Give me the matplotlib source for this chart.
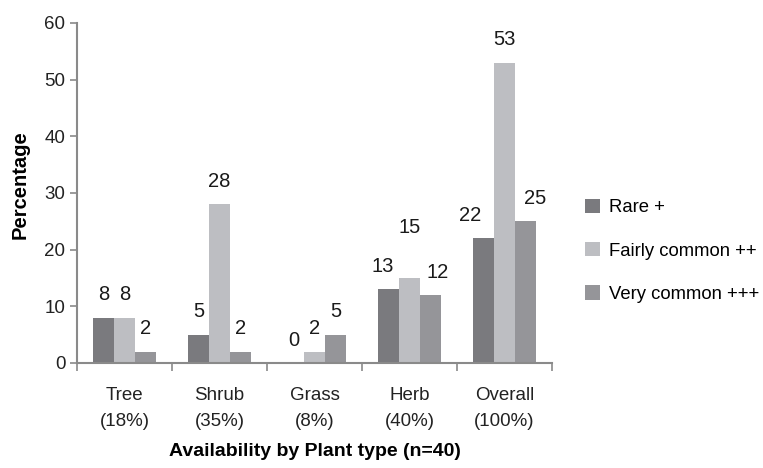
import numpy as np
import matplotlib.pyplot as plt
from matplotlib.ticker import FixedLocator

plt.rcParams["font.family"] = ["Liberation Sans", "DejaVu Sans"]

categories = ["Tree\n(18%)", "Shrub\n(35%)", "Grass\n(8%)", "Herb\n(40%)", "Overall\n(100%)"]
rare = [8, 5, 0, 13, 22]
fairly_common = [8, 28, 2, 15, 53]
very_common = [2, 2, 5, 12, 25]
series_names = ["Rare +", "Fairly common ++", "Very common +++"]
colors = ["#7a7a7e", "#bdbec2", "#959599"]

# labels nudged apart to avoid overlap, as in the original: (series, category) -> (dx, dy) points
label_nudge = {(0, 3): (-4.3, 0), (1, 3): (0, 20), (2, 3): (5, 0),
               (0, 4): (-9.4, 0), (2, 4): (7.2, 0)}

fig = plt.figure(figsize=(7.63, 4.68), dpi=100)
ax = fig.add_axes([0.101, 0.2244, 0.6225, 0.7265])

x = np.arange(len(categories))
width = 0.22
for i, (vals, name, col) in enumerate(zip([rare, fairly_common, very_common], series_names, colors)):
    pos = x + (i - 1) * width
    bars = ax.bar(pos, vals, width, color=col, label=name, edgecolor="none")
    for j, (b, v) in enumerate(zip(bars, vals)):
        dx, dy = label_nudge.get((i, j), (0, 0))
        ax.annotate(str(v), (b.get_x() + b.get_width() / 2, v), xytext=(dx, 9.5 + dy),
                    textcoords="offset points", ha="center", va="bottom", fontsize=14.5,
                    color="#1a1a1a")

ax.set_xlim(-0.5, len(categories) - 0.5)
ax.set_ylim(0, 60)
ax.set_yticks(range(0, 61, 10))
ax.set_xticks(x)
ax.set_xticklabels(categories, fontsize=13.5, color="#222222", linespacing=1.75)
ax.xaxis.set_minor_locator(FixedLocator(np.arange(-0.5, len(categories), 1)))
ax.tick_params(axis="x", which="major", length=0, pad=17)
ax.tick_params(axis="x", which="minor", length=6, color="#8a8a8a", width=1.2)
ax.tick_params(axis="y", length=5, color="#8a8a8a", width=1.2, labelsize=13.5,
               labelcolor="#222222")

for side in ["top", "right"]:
    ax.spines[side].set_visible(False)
for side in ["left", "bottom"]:
    ax.spines[side].set_color("#8a8a8a")
    ax.spines[side].set_linewidth(1.5)

ax.set_ylabel("Percentage", fontsize=14.5, fontweight="bold")
ax.yaxis.set_label_coords(-0.10, 0.524)
ax.set_xlabel("Availability by Plant type (n=40)", fontsize=14, fontweight="bold", labelpad=9)

ax.legend(loc="center left", bbox_to_anchor=(1.035, 0.33), frameon=False, fontsize=13.3,
          handlelength=0.8, handleheight=0.8, handletextpad=0.5, labelspacing=1.4)

fig.savefig("out.png", dpi=100)
